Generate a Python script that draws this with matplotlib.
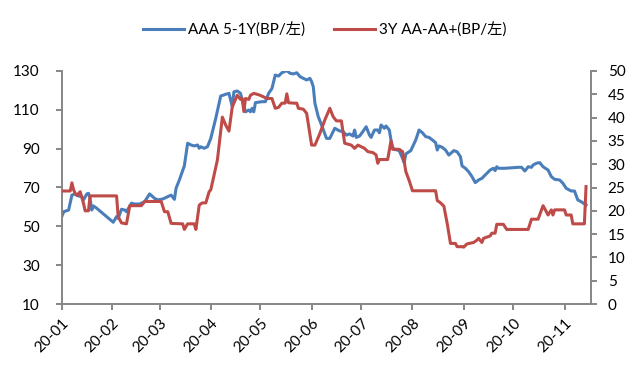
import matplotlib
matplotlib.use("Agg")
import matplotlib.pyplot as plt
import pandas as pd

# ---- data ----
blue_label = "AAA 5-1Y(BP/左)"
red_label = "3Y AA-AA+(BP/左)"

blue_dates = ["01-02", "01-03", "01-06", "01-08", "01-10", "01-12", "01-14", "01-15", "01-17", "01-18",
              "01-19", "01-20", "01-21", "01-23", "02-02", "02-04", "02-05", "02-07", "02-09", "02-10",
              "02-13", "02-15", "02-18", "02-21", "02-24", "02-27", "02-29", "03-03", "03-06", "03-08",
              "03-10", "03-11", "03-13", "03-16", "03-18", "03-20", "03-22", "03-24", "03-25", "03-26",
              "03-28", "03-30", "04-01", "04-04", "04-07", "04-10", "04-12", "04-14", "04-15", "04-17",
              "04-19", "04-20", "04-22", "04-24", "04-25", "04-26", "04-27", "04-28", "05-02", "05-04",
              "05-06", "05-08", "05-10", "05-12", "05-14", "05-17", "05-19", "05-21", "05-23", "05-25",
              "05-27", "05-29", "05-31", "06-01", "06-02", "06-03", "06-05", "06-07", "06-10", "06-12",
              "06-15", "06-18", "06-20", "06-22", "06-24", "06-26", "06-27", "06-28", "06-30", "07-02",
              "07-04", "07-06", "07-07", "07-09", "07-11", "07-12", "07-13", "07-15", "07-16", "07-18",
              "07-19", "07-20", "07-21", "07-24", "07-26", "07-27", "07-28", "07-31", "08-03", "08-05",
              "08-07", "08-09", "08-11", "08-13", "08-15", "08-16", "08-17", "08-19", "08-21", "08-23",
              "08-26", "08-28", "08-30", "08-31", "09-02", "09-04", "09-06", "09-08", "09-10", "09-12",
              "09-13", "09-15", "09-17", "09-19", "09-20", "09-21", "09-22", "09-26", "10-04", "10-06",
              "10-08", "10-10", "10-12", "10-13", "10-15", "10-17", "10-19", "10-22", "10-24", "10-26",
              "10-29", "10-31", "11-02", "11-05", "11-07", "11-09", "11-11", "11-14"]
blue_values = [55.3, 57.5, 58.4, 66.1, 66.7, 65.6, 65.3, 63.6, 66.7, 67.0,
               64.4, 58.4, 60.5, 59.3, 52.1, 55.0, 54.1, 58.8, 58.4, 57.5,
               61.9, 61.5, 61.5, 62.7, 66.7, 64.4, 63.6, 64.1, 65.3, 66.1,
               63.9, 69.6, 73.9, 81.1, 92.8, 91.9, 91.4, 91.9, 90.2, 91.0,
               90.2, 91.0, 95.3, 105.6, 117.1, 118.0, 118.5, 111.6, 119.3, 119.7,
               118.5, 115.1, 109.0, 109.9, 109.0, 110.8, 109.0, 113.7, 114.2, 114.2,
               118.5, 121.0, 127.9, 127.4, 129.1, 130.2, 128.8, 128.5, 129.1, 127.1,
               126.2, 125.4, 126.2, 124.5, 121.9, 113.4, 106.5, 102.2, 95.3, 95.3,
               100.5, 99.1, 98.8, 97.0, 97.6, 96.5, 99.6, 95.8, 96.5, 98.8,
               101.3, 97.0, 95.8, 99.6, 99.6, 98.2, 102.2, 100.5, 101.7, 99.6,
               94.5, 90.7, 89.7, 89.0, 85.0, 82.8, 87.3, 89.0, 94.5, 99.6,
               98.2, 96.2, 95.8, 94.5, 93.1, 89.3, 91.4, 90.7, 89.3, 86.7,
               89.0, 88.4, 85.9, 81.1, 79.9, 78.1, 75.6, 72.5, 73.9, 74.7,
               75.6, 77.3, 79.0, 79.9, 78.7, 80.7, 79.9, 79.9, 80.4, 80.4,
               78.5, 80.7, 80.4, 81.6, 82.5, 82.8, 80.7, 79.0, 75.6, 74.2,
               73.9, 72.2, 69.6, 68.2, 68.2, 63.6, 62.7, 61.0]

red_dates = ["01-02", "01-07", "01-08", "01-09", "01-10", "01-11", "01-13", "01-15", "01-16", "01-18",
             "01-19", "02-04", "02-05", "02-07", "02-10", "02-12", "02-19", "02-21", "03-02", "03-04",
             "03-06", "03-08", "03-15", "03-16", "03-18", "03-22", "03-23", "03-25", "03-26", "03-27",
             "03-29", "03-31", "04-01", "04-03", "04-05", "04-08", "04-10", "04-12", "04-14", "04-17",
             "04-19", "04-20", "04-21", "04-22", "04-24", "04-25", "04-27", "04-30", "05-02", "05-05",
             "05-08", "05-10", "05-12", "05-14", "05-16", "05-17", "05-18", "05-21", "05-23", "05-24",
             "05-27", "05-29", "06-01", "06-03", "06-06", "06-09", "06-12", "06-14", "06-16", "06-19",
             "06-21", "06-25", "06-27", "06-29", "07-03", "07-05", "07-08", "07-10", "07-11", "07-12",
             "07-17", "07-19", "07-20", "07-24", "07-26", "07-28", "07-30", "08-01", "08-15", "08-16",
             "08-18", "08-20", "08-22", "08-24", "08-27", "08-28", "08-31", "09-01", "09-03", "09-07",
             "09-09", "09-10", "09-12", "09-13", "09-17", "09-18", "09-20", "09-21", "09-25", "09-27",
             "10-10", "10-12", "10-16", "10-19", "10-21", "10-22", "10-24", "10-25", "10-26", "11-01",
             "11-02", "11-05", "11-06", "11-13", "11-14"]
red_values = [24.25, 24.25, 26.0, 24.5, 23.75, 23.3, 24.1, 21.6, 20.0, 20.0,
              23.2, 23.2, 18.7, 17.4, 17.2, 21.1, 21.1, 22.0, 22.0, 19.8,
              19.8, 17.3, 17.2, 16.0, 17.2, 17.2, 16.0, 21.2, 21.5, 21.7,
              21.7, 24.1, 24.5, 27.7, 30.9, 40.1, 38.4, 37.1, 42.3, 44.8,
              43.9, 44.1, 41.3, 44.1, 43.9, 44.8, 45.2, 44.9, 44.6, 44.1,
              44.1, 42.0, 42.2, 43.1, 43.1, 45.1, 43.2, 43.1, 43.1, 42.0,
              41.8, 40.9, 34.1, 34.1, 36.6, 39.5, 42.0, 40.2, 39.3, 39.3,
              34.5, 34.1, 33.4, 34.1, 33.4, 32.7, 32.5, 32.0, 30.2, 31.0,
              31.0, 35.0, 33.2, 33.2, 32.7, 28.4, 26.5, 24.3, 24.3, 22.2,
              21.7, 21.0, 17.3, 13.0, 13.0, 12.3, 12.3, 12.2, 12.9, 13.2,
              13.7, 14.1, 13.2, 14.1, 14.6, 15.2, 15.2, 17.1, 17.1, 16.0,
              16.0, 18.2, 18.2, 21.1, 19.8, 19.1, 20.2, 19.1, 20.2, 20.2,
              19.1, 19.1, 17.2, 17.2, 25.2]

left_ticks = [10, 30, 50, 70, 90, 110, 130]
right_ticks = [0, 5, 10, 15, 20, 25, 30, 35, 40, 45, 50]
x_tick_labels = ["20-01", "20-02", "20-03", "20-04", "20-05", "20-06",
                 "20-07", "20-08", "20-09", "20-10", "20-11"]

# ---- drawing ----
plt.rcParams["font.family"] = ["Lato", "Noto Sans CJK SC", "DejaVu Sans"]

W, H = 643, 376
fig = plt.figure(figsize=(W / 100, H / 100), dpi=100)
L, R, T, B = 62, 591, 71, 304
ax = fig.add_axes([L / W, 1 - B / H, (R - L) / W, (B - T) / H])
ax2 = ax.twinx()

bx = pd.to_datetime(["2020-" + d for d in blue_dates])
rx = pd.to_datetime(["2020-" + d for d in red_dates])

blue_c = "#4A7EBB"
red_c = "#BE4B48"
l1, = ax.plot(bx, blue_values, color=blue_c, lw=2.2, solid_joinstyle="round")
l2, = ax2.plot(rx, red_values, color=red_c, lw=2.2, solid_joinstyle="round")
ax2.set_zorder(ax.get_zorder() + 1)
ax2.patch.set_visible(False)

ax.set_ylim(left_ticks[0], left_ticks[-1])
ax.set_yticks(left_ticks)
ax2.set_ylim(right_ticks[0], right_ticks[-1])
ax2.set_yticks(right_ticks)

ax.set_xlim(pd.Timestamp("2020-01-02"), pd.Timestamp("2020-11-17"))
xt = [pd.Timestamp("2020-01-02")] + [pd.Timestamp(f"2020-{m:02d}-01") for m in range(2, 12)]
ax.set_xticks(xt)
ax.set_xticklabels(x_tick_labels, rotation=45, ha="right", va="top", rotation_mode="anchor")

gray = "#868686"
for a in (ax, ax2):
    for s in a.spines.values():
        s.set_color(gray)
        s.set_linewidth(1.4)
    a.spines["top"].set_visible(False)
ax.spines["right"].set_visible(False)
ax2.spines["left"].set_visible(False)
ax2.spines["bottom"].set_visible(False)

ax.tick_params(axis="y", direction="out", length=4, width=1.4, color=gray, labelsize=11, pad=12)
ax.tick_params(axis="x", direction="out", length=4, width=1.4, color=gray, labelsize=11, pad=5)
ax2.tick_params(axis="y", direction="out", length=4, width=1.4, color=gray, labelsize=11, pad=8)

fig.legend([l1, l2], [blue_label, red_label], loc="center", bbox_to_anchor=(0.505, 0.92),
           ncol=2, frameon=False, fontsize=11, handlelength=2.7, handletextpad=0.25,
           columnspacing=1.9)

fig.savefig("out.png", dpi=100)
